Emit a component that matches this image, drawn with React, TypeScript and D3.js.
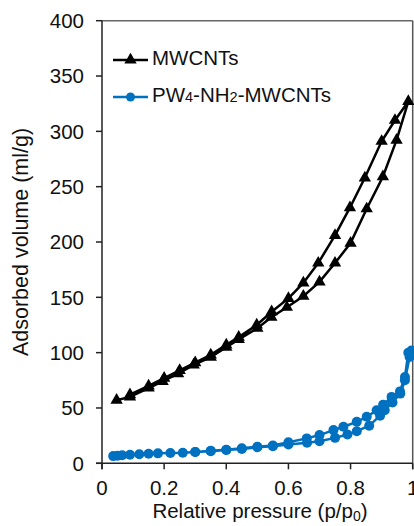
import * as d3 from 'd3'

// relative pressure / adsorbed volume
const mwAdsP = [0.047, 0.09, 0.15, 0.195, 0.245, 0.295, 0.35, 0.4, 0.44, 0.5, 0.545, 0.595, 0.648, 0.7, 0.75, 0.8, 0.852, 0.904, 0.948, 0.986]
const mwAdsV = [57, 60, 68, 74, 81, 89, 96, 105, 112, 122, 132, 141, 151, 164, 181, 199, 230, 259, 292, 327]
const mwDesP = [0.943, 0.9, 0.846, 0.798, 0.75, 0.696, 0.648, 0.6, 0.546, 0.498, 0.44, 0.4, 0.35, 0.3, 0.25, 0.2, 0.15, 0.09]
const mwDesV = [310, 291, 258, 231, 206, 181, 163, 149, 137, 125, 114, 107, 98, 91, 84, 77, 70, 62]

const pwAdsP = [0.036, 0.05, 0.065, 0.09, 0.12, 0.15, 0.18, 0.22, 0.26, 0.3, 0.35, 0.4, 0.45, 0.5, 0.55, 0.6, 0.66, 0.7, 0.75, 0.79, 0.82, 0.86, 0.895, 0.91, 0.935, 0.96, 0.975, 0.99]
const pwAdsV = [6.5, 6.8, 7.2, 7.8, 8.2, 8.6, 9, 9.3, 9.6, 10.2, 11, 12, 13, 14.5, 15.5, 17, 18.5, 20, 23, 26, 29, 34, 43, 48, 55, 63, 75, 96]
const pwDesP = [0.996, 0.986, 0.975, 0.959, 0.932, 0.905, 0.884, 0.852, 0.82, 0.777, 0.745, 0.7, 0.659, 0.6, 0.55, 0.5, 0.45, 0.4, 0.35, 0.3]
const pwDesV = [102, 100, 78, 65, 60, 53, 48, 42, 37.5, 33, 30, 25.5, 22.5, 19, 16, 15, 13.5, 12.2, 11.3, 10.2]

const xTicks = [0, 0.2, 0.4, 0.6, 0.8, 1]
const yTicks = [0, 50, 100, 150, 200, 250, 300, 350, 400]

const font = '"Liberation Sans", Arial, sans-serif'
const blue = '#0070c0'

const width = 414
const height = 526
const left = 102
const right = 412.7
const top = 20.7
const bottom = 463.3

const toPoints = (ps: number[], vs: number[]) => ps.map((p, i) => [p, vs[i]] as [number, number])

export default function App() {
  const x = d3.scaleLinear().domain([0, 1]).range([left, right])
  const y = d3.scaleLinear().domain([0, 400]).range([bottom, top])

  const line = d3
    .line<[number, number]>()
    .x((d) => x(d[0]))
    .y((d) => y(d[1]))

  const mw = [...toPoints(mwAdsP, mwAdsV), ...toPoints(mwDesP, mwDesV)]
  const pw = [...toPoints(pwAdsP, pwAdsV), ...toPoints(pwDesP, pwDesV)]

  const tri = d3.symbol(d3.symbolTriangle, 66)()

  return (
    <svg
      width={width}
      height={height}
      style={{ position: 'absolute', left: 0, top: 0, background: 'white' }}
      fontFamily={font}
    >
      {/* frame */}
      <line x1={left} x2={right} y1={top} y2={top} stroke="#666" strokeWidth={1.5} />
      <line x1={right} x2={right} y1={top} y2={bottom + 6} stroke="#555" strokeWidth={1.5} />
      <line x1={left} x2={left} y1={top} y2={bottom + 6} stroke="#222" strokeWidth={1.5} />
      <line x1={left - 6} x2={right} y1={bottom} y2={bottom} stroke="#222" strokeWidth={1.5} />

      {yTicks.map((t) => (
        <g key={t}>
          <line x1={left - 6} x2={left} y1={y(t)} y2={y(t)} stroke="#222" strokeWidth={1.5} />
          <text x={left - 18} y={y(t)} dy="0.36em" textAnchor="end" fontSize={20.5} fill="#111">
            {t}
          </text>
        </g>
      ))}
      {xTicks.map((t) => (
        <g key={t}>
          <line x1={x(t)} x2={x(t)} y1={bottom} y2={bottom + 6} stroke="#222" strokeWidth={1.5} />
          <text x={x(t)} y={495} textAnchor="middle" fontSize={20.5} fill="#111">
            {t}
          </text>
        </g>
      ))}

      <text x={260} y={518} textAnchor="middle" fontSize={20.5} fill="#111">
        Relative pressure (p/p
        <tspan fontSize={14} dy={3}>0</tspan>
        <tspan dy={-3}>)</tspan>
      </text>
      <text
        transform={`translate(28, ${(top + bottom) / 2}) rotate(-90)`}
        textAnchor="middle"
        fontSize={21.5}
        fill="#111"
      >
        Adsorbed volume (ml/g)
      </text>

      {/* PW4-NH2-MWCNTs */}
      <path d={line(pw) ?? ''} fill="none" stroke={blue} strokeWidth={2.5} />
      {pw.map((d, i) => (
        <circle key={i} cx={x(d[0])} cy={y(d[1])} r={5} fill={blue} />
      ))}

      {/* MWCNTs */}
      <path d={line(mw) ?? ''} fill="none" stroke="#000" strokeWidth={2.5} />
      {mw.map((d, i) => (
        <path key={i} d={tri ?? ''} transform={`translate(${x(d[0])},${y(d[1])})`} fill="#000" />
      ))}

      {/* legend */}
      <g>
        <line x1={113} x2={148} y1={60} y2={60} stroke="#000" strokeWidth={2.5} />
        <path d={tri ?? ''} transform="translate(130.5,60)" fill="#000" />
        <text x={152} y={64.5} fontSize={20.5} fill="#111">MWCNTs</text>
        <line x1={113} x2={148} y1={97} y2={97} stroke={blue} strokeWidth={2.5} />
        <circle cx={130.5} cy={97} r={4.5} fill={blue} />
        <text x={152} y={102} fontSize={20.5} fill="#111">
          PW<tspan fontSize={14.5}>4</tspan>-NH<tspan fontSize={14.5}>2</tspan>-MWCNTs
        </text>
      </g>
    </svg>
  )
}
